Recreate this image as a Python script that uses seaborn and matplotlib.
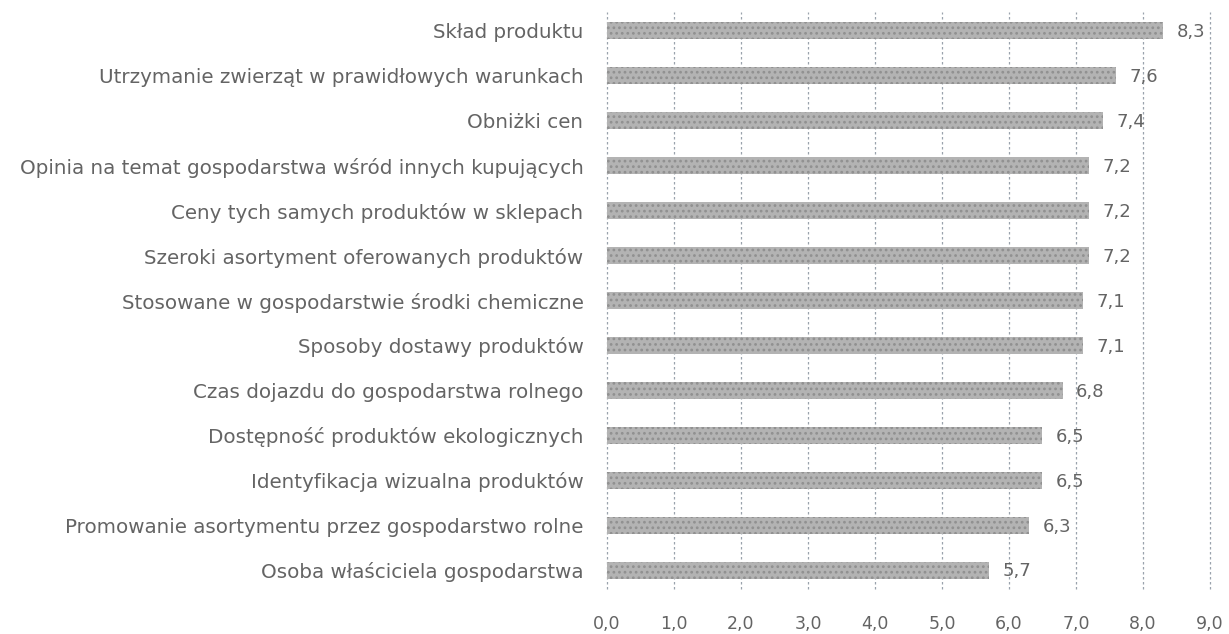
import matplotlib
matplotlib.use("Agg")
import matplotlib.pyplot as plt
import seaborn as sns
import pandas as pd

categories = [
    "Skład produktu",
    "Utrzymanie zwierząt w prawidłowych warunkach",
    "Obniżki cen",
    "Opinia na temat gospodarstwa wśród innych kupujących",
    "Ceny tych samych produktów w sklepach",
    "Szeroki asortyment oferowanych produktów",
    "Stosowane w gospodarstwie środki chemiczne",
    "Sposoby dostawy produktów",
    "Czas dojazdu do gospodarstwa rolnego",
    "Dostępność produktów ekologicznych",
    "Identyfikacja wizualna produktów",
    "Promowanie asortymentu przez gospodarstwo rolne",
    "Osoba właściciela gospodarstwa",
]
values = [8.3, 7.6, 7.4, 7.2, 7.2, 7.2, 7.1, 7.1, 6.8, 6.5, 6.5, 6.3, 5.7]
x_ticks = [0, 1, 2, 3, 4, 5, 6, 7, 8, 9]

df = pd.DataFrame({"cat": categories, "val": values})

sns.set_theme(style="white")
plt.rcParams["font.family"] = ["DejaVu Sans"]
plt.rcParams["hatch.linewidth"] = 1.2

fig = plt.figure(figsize=(12.29, 6.34), dpi=100)
ax = fig.add_axes([0.4939, 0.071, 0.4906, 0.910])

sns.barplot(data=df, y="cat", x="val", orient="h", color="#b3b3b3",
            width=0.38, ax=ax, saturation=1)
for p in ax.patches:
    p.set_hatch("...")
    p.set_edgecolor("#909090")
    p.set_linewidth(0)

ax.set_xlim(0, 9)
ax.set_ylim(12.42, -0.42)
ax.set_xticks(x_ticks)
ax.set_xticklabels([f"{t:.1f}".replace(".", ",") for t in x_ticks])
ax.xaxis.grid(True, linestyle=(0, (2, 2)), color="#9aa3ad", linewidth=0.9)
for gl in ax.get_xgridlines():
    gl.set_clip_on(False)
ax.yaxis.grid(False)
ax.set_axisbelow(True)
for s in ax.spines.values():
    s.set_visible(False)
ax.set_xlabel("")
ax.set_ylabel("")
ax.tick_params(axis="x", length=0, pad=19, labelsize=12.5, labelcolor="#646464")
ax.tick_params(axis="y", length=0, pad=17, labelsize=14.3, labelcolor="#646464")

for i, v in enumerate(values):
    ax.text(v + 0.2, i + 0.03, f"{v:.1f}".replace(".", ","), va="center",
            ha="left", fontsize=13, color="#646464")

fig.savefig("out.png", dpi=100)
